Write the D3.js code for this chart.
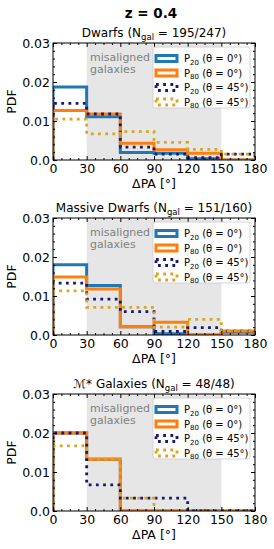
<!DOCTYPE html>
<html lang="en">
<head>
<meta charset="utf-8">
<title>PDF of misalignment angle</title>
<script src="https://d3js.org/d3.v7.min.js"></script>
<style>
  body { margin: 0; background: #fff; }
  svg { font-family: "DejaVu Sans", sans-serif; }
  .axis .domain { stroke: none; }
  .axis line { stroke: #000; stroke-width: 1; }
  .axis text { font-family: "DejaVu Sans", sans-serif; fill: #000; }
</style>
</head>
<body>
<svg id="chart" width="274" height="549"></svg>
<script>
// ---- data (PDF per 30 deg bin) ----
const binEdges = [0, 30, 60, 90, 120, 150, 180];
const xTicks = [0, 30, 60, 90, 120, 150, 180];
const yTicks = [0, 0.01, 0.02, 0.03];
const yTickLabels = ["0.0", "0.01", "0.02", "0.03"];
const seriesNames = ["P20_0", "P80_0", "P20_45", "P80_45"];

const dwarfsP20_0  = [0.0187, 0.0111, 0.0019, 0.0017, 0.0003, 0.0];
const dwarfsP80_0  = [0.0127, 0.0118, 0.0043, 0.0026, 0.0017, 0.0];
const dwarfsP20_45 = [0.0145, 0.0118, 0.0033, 0.0015, 0.0006, 0.0015];
const dwarfsP80_45 = [0.0105, 0.0067, 0.0073, 0.0045, 0.0027, 0.0015];

const massiveP20_0  = [0.0180, 0.0127, 0.0021, 0.0003, 0.0, 0.0007];
const massiveP80_0  = [0.0149, 0.0118, 0.0021, 0.0033, 0.0, 0.0010];
const massiveP20_45 = [0.0133, 0.0092, 0.0060, 0.0009, 0.0019, 0.0010];
const massiveP80_45 = [0.0113, 0.0071, 0.0071, 0.0020, 0.0040, 0.0010];

const mstarP20_0  = [0.0200, 0.0133, 0.0, 0.0, 0.0, 0.0];
const mstarP80_0  = [0.0200, 0.0133, 0.0, 0.0, 0.0, 0.0];
const mstarP20_45 = [0.0200, 0.0067, 0.0033, 0.0033, 0.0, 0.0];
const mstarP80_45 = [0.0167, 0.0133, 0.0033, 0.0, 0.0, 0.0];

const panels = [
  { name: "Dwarfs", ngal: "195/247", top: 43, series: [dwarfsP20_0, dwarfsP80_0, dwarfsP20_45, dwarfsP80_45] },
  { name: "Massive Dwarfs", ngal: "151/160", top: 218, series: [massiveP20_0, massiveP80_0, massiveP20_45, massiveP80_45] },
  { name: "\u2133* Galaxies", ngal: "48/48", top: 394, series: [mstarP20_0, mstarP80_0, mstarP20_45, mstarP80_45] }
];

const styles = {
  P20_0:  { color: "#1f77b4", dash: null, p: "20", th: "0" },
  P80_0:  { color: "#ff7f0e", dash: null, p: "80", th: "0" },
  P20_45: { color: "#191970", dash: "2.8 4.4", p: "20", th: "45" },
  P80_45: { color: "#daa520", dash: "2.8 4.4", p: "80", th: "45" }
};

const left = 53, right = 255, plotH = 117;
const svg = d3.select("#chart");

svg.append("text")
  .attr("x", 151).attr("y", 18)
  .attr("text-anchor", "middle")
  .style("font-size", "13.5px").style("font-weight", "bold")
  .text("z = 0.4");

const x = d3.scaleLinear().domain([0, 180]).range([left, right]);

panels.forEach((p, pi) => {
  const top = p.top, bottom = top + plotH;
  const y = d3.scaleLinear().domain([0, 0.03]).range([bottom, top]);
  const g = svg.append("g");

  // misaligned region
  g.append("rect")
    .attr("x", x(30)).attr("y", top)
    .attr("width", x(150) - x(30)).attr("height", plotH)
    .attr("fill", "#e6e6e6");

  g.append("text").attr("x", x(33)).attr("y", top + 18)
    .style("font-size", "11px").attr("fill", "#808080").text("misaligned");
  g.append("text").attr("x", x(33)).attr("y", top + 30)
    .style("font-size", "11px").attr("fill", "#808080").text("galaxies");

  // clip
  svg.append("clipPath").attr("id", "clip" + pi)
    .append("rect").attr("x", left).attr("y", top).attr("width", right - left).attr("height", plotH);

  const line = d3.line().x(d => x(d[0])).y(d => y(d[1]));
  p.series.forEach((vals, si) => {
    const st = styles[seriesNames[si]];
    const pts = [[binEdges[0], 0]];
    vals.forEach((v, i) => { pts.push([binEdges[i], v]); pts.push([binEdges[i + 1], v]); });
    pts.push([binEdges[binEdges.length - 1], 0]);
    g.append("path")
      .attr("d", line(pts))
      .attr("clip-path", `url(#clip${pi})`)
      .attr("fill", "none")
      .attr("stroke", st.color)
      .attr("stroke-width", st.dash ? 2.8 : 3)
      .attr("stroke-dasharray", st.dash);
  });

  // axes
  const xMinor = d3.range(0, 180.1, 7.5).filter(v => v % 30 !== 0);
  const yMinor = d3.range(0, 0.0301, 0.002).filter((v, i) => i % 5 !== 0);

  g.append("g").attr("class", "axis").attr("transform", `translate(0,${bottom})`)
    .call(d3.axisBottom(x).tickValues(xTicks).tickSize(-4).tickPadding(4.5).tickFormat(d3.format("d")))
    .selectAll("text").style("font-size", "12.5px");
  g.append("g").attr("class", "axis").attr("transform", `translate(0,${bottom})`)
    .call(d3.axisBottom(x).tickValues(xMinor).tickSize(-2).tickFormat(""));
  g.append("g").attr("class", "axis").attr("transform", `translate(0,${top})`)
    .call(d3.axisTop(x).tickValues(xTicks).tickSize(-4).tickFormat(""));
  g.append("g").attr("class", "axis").attr("transform", `translate(0,${top})`)
    .call(d3.axisTop(x).tickValues(xMinor).tickSize(-2).tickFormat(""));

  g.append("g").attr("class", "axis").attr("transform", `translate(${left},0)`)
    .call(d3.axisLeft(y).tickValues(yTicks).tickSize(-4).tickPadding(3).tickFormat((d, i) => yTickLabels[i]))
    .selectAll("text").style("font-size", "12.5px");
  g.append("g").attr("class", "axis").attr("transform", `translate(${left},0)`)
    .call(d3.axisLeft(y).tickValues(yMinor).tickSize(-2).tickFormat(""));
  g.append("g").attr("class", "axis").attr("transform", `translate(${right},0)`)
    .call(d3.axisRight(y).tickValues(yTicks).tickSize(-4).tickFormat(""));
  g.append("g").attr("class", "axis").attr("transform", `translate(${right},0)`)
    .call(d3.axisRight(y).tickValues(yMinor).tickSize(-2).tickFormat(""));

  g.append("rect")
    .attr("x", left).attr("y", top).attr("width", right - left).attr("height", plotH)
    .attr("fill", "none").attr("stroke", "#000").attr("stroke-width", 1);

  // labels
  g.append("text").attr("x", (left + right) / 2).attr("y", bottom + 27.5)
    .attr("text-anchor", "middle").style("font-size", "12.5px").text("\u0394PA [\u00b0]");
  g.append("text")
    .attr("transform", `translate(16,${(top + bottom) / 2}) rotate(-90)`)
    .attr("text-anchor", "middle").style("font-size", "12.5px").text("PDF");

  const t = g.append("text").attr("x", (left + right) / 2).attr("y", top - 6.5)
    .attr("text-anchor", "middle").style("font-size", "12px");
  t.append("tspan").text(p.name + " (N");
  t.append("tspan").attr("dy", 3).style("font-size", "8.5px").text("gal");
  t.append("tspan").attr("dy", -3).text(" = " + p.ngal + ")");

  // legend
  const lg = g.append("g").attr("transform", `translate(153,${top + 4})`);
  lg.append("rect").attr("width", 97).attr("height", 61).attr("rx", 2)
    .attr("fill", "#fff").attr("fill-opacity", 0.85).attr("stroke", "#cccccc").attr("stroke-width", 0.8);
  seriesNames.forEach((s, i) => {
    const st = styles[s];
    const cy = 11.5 + i * 14.5;
    lg.append("rect").attr("x", 3).attr("y", cy - 3).attr("width", 21).attr("height", 6)
      .attr("fill", "none").attr("stroke", st.color)
      .attr("stroke-width", st.dash ? 2.8 : 3).attr("stroke-dasharray", st.dash);
    const lt = lg.append("text").attr("x", 31).attr("y", cy + 3.5).style("font-size", "10px");
    lt.append("tspan").text("P");
    lt.append("tspan").attr("dy", 2.5).style("font-size", "7px").text(st.p);
    lt.append("tspan").attr("dy", -2.5).text(` (\u03b8 = ${st.th}\u00b0)`);
  });
});
</script>
</body>
</html>
